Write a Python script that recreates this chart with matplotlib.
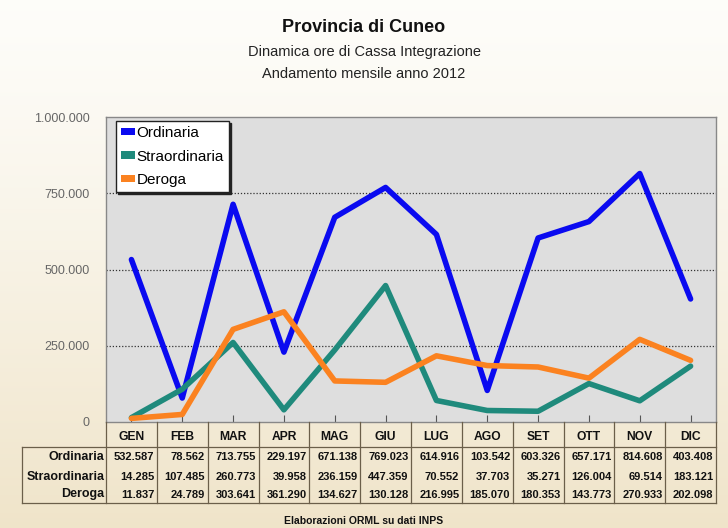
import numpy as np
import matplotlib
matplotlib.use("Agg")
import matplotlib.pyplot as plt
from matplotlib.patches import Patch

plt.rcParams["font.family"] = ["Liberation Sans", "DejaVu Sans"]

mesi = ["GEN", "FEB", "MAR", "APR", "MAG", "GIU", "LUG", "AGO", "SET", "OTT", "NOV", "DIC"]
ordinaria = [532587, 78562, 713755, 229197, 671138, 769023, 614916, 103542, 603326, 657171, 814608, 403408]
straordinaria = [14285, 107485, 260773, 39958, 236159, 447359, 70552, 37703, 35271, 126004, 69514, 183121]
deroga = [11837, 24789, 303641, 361290, 134627, 130128, 216995, 185070, 180353, 143773, 270933, 202098]
serie = ["Ordinaria", "Straordinaria", "Deroga"]
colori = ["#0a0af0", "#1f8a7c", "#fb8220"]
y_ticks = [0, 250000, 500000, 750000, 1000000]
y_labels = ["0", "250.000", "500.000", "750.000", "1.000.000"]


def fmt(v):
    return f"{v:,}".replace(",", ".")


W, H = 728, 528
fig = plt.figure(figsize=(W / 100, H / 100), dpi=100)

# sfondo sfumato
bg = fig.add_axes([0, 0, 1, 1], zorder=-10)
grad = np.linspace(0, 1, 256).reshape(-1, 1)
top = np.array([0.995, 0.993, 0.98])
bot = np.array([0.94, 0.895, 0.79])
img = top + (bot - top) * grad[..., None] ** 1.2
bg.imshow(img, aspect="auto", extent=[0, 1, 0, 1], origin="upper")
bg.axis("off")

fig.text(0.5, 1 - 28 / H, "Provincia di Cuneo", ha="center", va="center",
         fontsize=13, fontweight="bold", color="#111")
fig.text(0.5, 1 - 52 / H, "Dinamica ore di Cassa Integrazione", ha="center", va="center",
         fontsize=10.5, color="#222")
fig.text(0.5, 1 - 74 / H, "Andamento mensile anno 2012", ha="center", va="center",
         fontsize=10.5, color="#222")

# grafico principale
L, R, T, B = 106, 716, 117, 422
ax = fig.add_axes([L / W, 1 - B / H, (R - L) / W, (B - T) / H])
ax.set_facecolor("#dedede")
x = np.arange(len(mesi))
for vals, nome, c in zip([ordinaria, straordinaria, deroga], serie, colori):
    ax.plot(x, vals, color=c, lw=4, solid_capstyle="round", solid_joinstyle="round", zorder=3)

ax.set_xlim(-0.5, 11.5)
ax.set_ylim(0, 1000000)
ax.set_yticks(y_ticks)
ax.set_yticklabels(y_labels, fontsize=9, color="#666")
ax.tick_params(axis="y", length=0, pad=12)
ax.set_xticks(x)
ax.set_xticklabels([])
ax.tick_params(axis="x", direction="in", length=5, color="#555")
for yv in y_ticks[1:-1]:
    ax.axhline(yv, color="#333", lw=0.9, ls=(0, (1, 1.5)), zorder=1)
for s in ax.spines.values():
    s.set_color("#888")
    s.set_linewidth(1)

handles = [Patch(facecolor=c, edgecolor="none") for c in colori]
leg = ax.legend(handles, serie, loc="upper left", bbox_to_anchor=(10 / (R - L), 1 - 4 / (B - T)),
                borderaxespad=0, fontsize=11, frameon=True, fancybox=False, borderpad=0.33,
                handlelength=0.9, handleheight=0.4, handletextpad=0.12, labelspacing=0.62,
                shadow={"color": "#222", "alpha": 1, "ox": 1.5, "oy": -1.5})
leg.get_frame().set_edgecolor("#222")
leg.get_frame().set_linewidth(1)
leg.get_frame().set_facecolor("white")

# tabella dati
TL, TB = 22, 503
tab = fig.add_axes([TL / W, 1 - TB / H, (R - TL) / W, (TB - B) / H])
col_w = (R - L) / 12
xl = -0.5 - (L - TL) / col_w
tab.set_xlim(xl, 11.5)
tab.set_ylim(TB - B, 0)
tab.axis("off")
row_edges = [0, 25, 45, 64, 81]
lc = "#6b5f4a"
for i in range(13):
    tab.plot([i - 0.5, i - 0.5], [0, 81], color=lc, lw=0.9, clip_on=False)
tab.plot([xl, xl], [25, 81], color=lc, lw=0.9, clip_on=False)
tab.plot([xl, 11.5], [25, 25], color=lc, lw=0.9, clip_on=False)
tab.plot([xl, 11.5], [80.5, 80.5], color=lc, lw=0.9, clip_on=False)
for i, m in enumerate(mesi):
    tab.text(i, 15.5, m, ha="center", va="center", fontsize=8.7, fontweight="bold", color="#111")
for r, (vals, nome) in enumerate(zip([ordinaria, straordinaria, deroga], serie)):
    yc = (row_edges[r + 1] + row_edges[r + 2]) / 2
    tab.text(-0.5 - 0.03, yc, nome, ha="right", va="center", fontsize=9, fontweight="bold", color="#111")
    for i, v in enumerate(vals):
        tab.text(i + 0.45, yc, fmt(v), ha="right", va="center", fontsize=8, fontweight="bold", color="#111")

fig.text(0.5, 1 - 521 / H, "Elaborazioni ORML su dati INPS", ha="center", va="center",
         fontsize=7.5, fontweight="bold", color="#111")

fig.savefig("out.png", dpi=100)
